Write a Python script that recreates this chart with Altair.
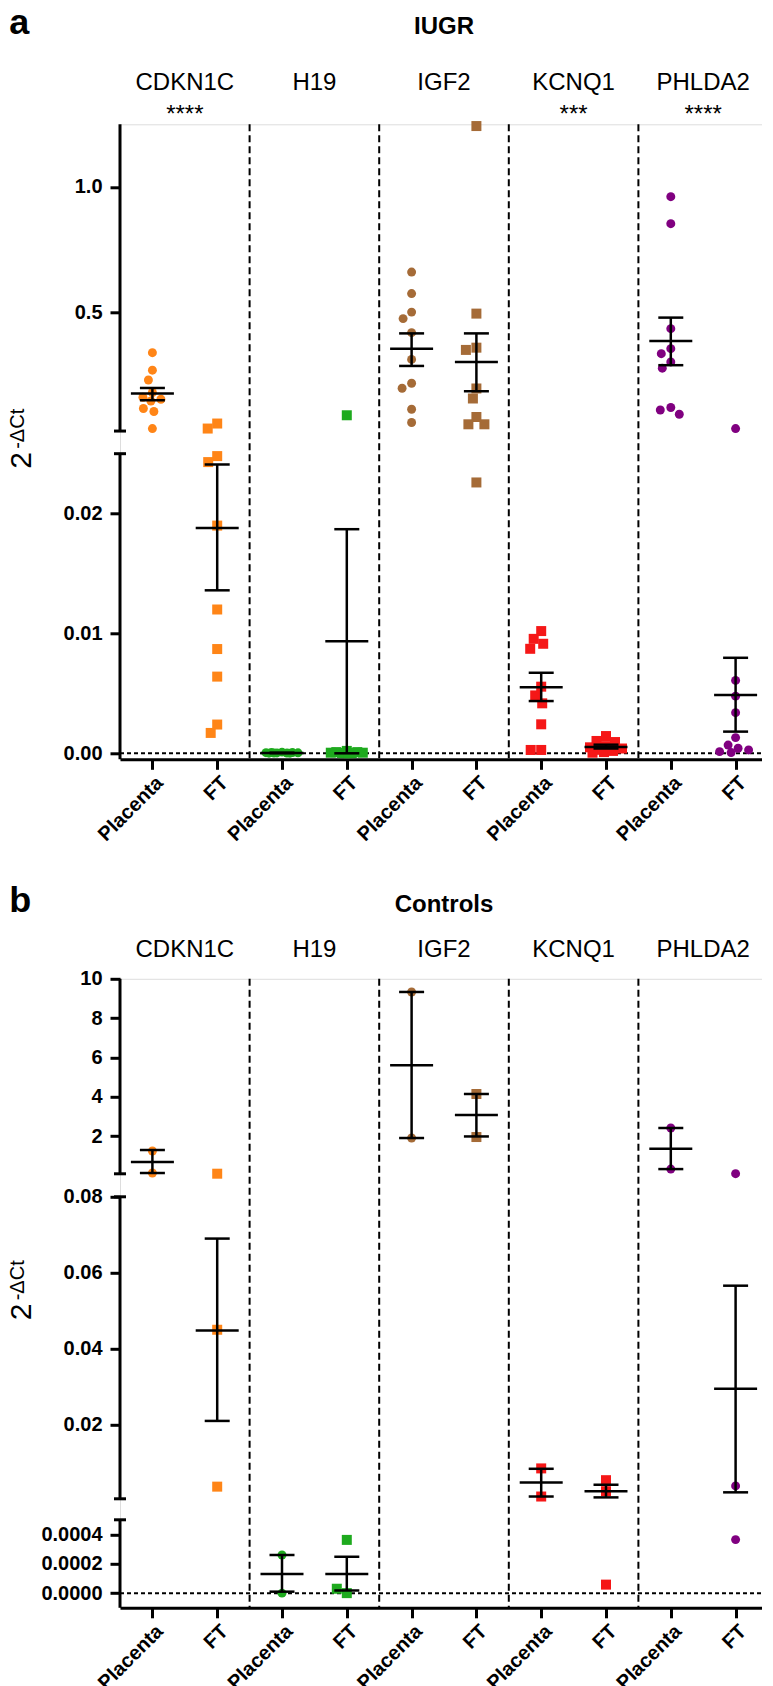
import altair as alt
import numpy as np
import pandas as pd

# ---------------- data ----------------
GENES = ["CDKN1C", "H19", "IGF2", "KCNQ1", "PHLDA2"]
TISSUES = ["Placenta", "FT"]
GENE_COLORS = ["#FF8517", "#1EAA1E", "#A56B37", "#F51717", "#800080"]
# marker used for each of the 10 columns (gene x tissue)
COLUMN_SHAPES = ["circle", "square", "circle", "square", "circle", "square",
                 "square", "square", "circle", "circle"]

# panel a : IUGR
IUGR_STARS = ["****", "", "", "***", "****"]
iugr_cdkn1c_placenta = [0.338, 0.268, 0.229, 0.179, 0.160, 0.152, 0.145, 0.115, 0.103, 0.035]
iugr_cdkn1c_ft = [0.055, 0.035, 0.0248, 0.0243, 0.019, 0.012, 0.0087, 0.0064, 0.0024, 0.0017]
iugr_h19_placenta = [0.0001, 0.00008, 0.00006, 0.00005, 0.00004, 0.00003, 0.00002, 0.00002, 0.00001, 0.00001]
iugr_h19_ft = [0.088, 0.0002, 0.0001, 0.0001, 0.00005, 0.00005, 0.00003, 0.00002, 0.00001, 0.00001]
iugr_igf2_placenta = [0.660, 0.574, 0.500, 0.474, 0.418, 0.311, 0.216, 0.196, 0.112, 0.059]
iugr_igf2_ft = [1.243, 0.494, 0.358, 0.349, 0.195, 0.155, 0.081, 0.052, 0.052, 0.0226]
iugr_kcnq1_placenta = [0.0102, 0.00955, 0.00914, 0.00872, 0.00556, 0.00483, 0.00417, 0.00242, 0.00028, 0.00028]
iugr_kcnq1_ft = [0.00144, 0.00103, 0.00094, 0.0006, 0.0005, 0.0004, 0.0003, 0.0002, 0.0001, 0.00005]
iugr_phlda2_placenta = [0.961, 0.853, 0.434, 0.354, 0.334, 0.301, 0.276, 0.119, 0.109, 0.092]
iugr_phlda2_ft = [0.035, 0.00608, 0.00477, 0.00339, 0.00131, 0.00069, 0.00042, 0.00028, 0.00014, 0.00006]
IUGR_MEAN = [0.175, 0.0188, 0.00003, 0.00936, 0.354, 0.301, 0.00552, 0.00053, 0.385, 0.00486]
IUGR_SEM_HI = [0.197, 0.0241, 0.00005, 0.0187, 0.415, 0.415, 0.00672, 0.00072, 0.478, 0.00797]
IUGR_SEM_LO = [0.148, 0.0136, 0.00001, 0.0, 0.285, 0.184, 0.00436, 0.00040, 0.288, 0.00181]

# panel b : Controls
CTRL_STARS = ["", "", "", "", ""]
ctrl_cdkn1c_placenta = [1.24, 0.12]
ctrl_cdkn1c_ft = [0.085, 0.045, 0.0037]
ctrl_h19_placenta = [0.00026, 0.0]
ctrl_h19_ft = [0.000363, 0.0, 0.00003]
ctrl_igf2_placenta = [9.33, 1.9]
ctrl_igf2_ft = [4.14, 1.95]
ctrl_kcnq1_placenta = [0.0085, 0.0011]
ctrl_kcnq1_ft = [0.0054, 0.0025, 0.000058]
ctrl_phlda2_placenta = [2.41, 0.32]
ctrl_phlda2_ft = [0.085, 0.0039, 0.000365]
CTRL_MEAN = [0.68, 0.0448, 0.00013, 0.000131, 5.6, 3.07, 0.0048, 0.0025, 1.35, 0.0295]
CTRL_SEM_HI = [1.29, 0.069, 0.00026, 0.000248, 9.33, 4.14, 0.0084, 0.0042, 2.41, 0.0566]
CTRL_SEM_LO = [0.12, 0.021, 0.00001, 0.000018, 1.9, 1.98, 0.0011, 0.00087, 0.32, 0.0022]

IUGR_TICKS = [0.0, 0.01, 0.02, 0.5, 1.0]
CTRL_TICKS = [0.0, 0.0002, 0.0004, 0.02, 0.04, 0.06, 0.08, 2, 4, 6, 8, 10]

# ---------------- layout / style ----------------
W = 648
HA, HB = 635, 629
STEP = W / 10.0
EPS = 1e-9
FONT = "Liberation Sans"
SHAPE_SIZE = {"circle": 80, "square": 100}

# broken y axes: piecewise linear scales
A_DOM = [-0.0005, 0.025, 0.025 + EPS, 1.25]
A_RNG = [HA, 329.4, 306.75, 0]
A_SEGS = [(-0.0005, 0.025), (0.025 + EPS, 1.25)]
A_CAPS = [0.025, 0.025 + EPS]

B_DOM = [-0.0001, 0.0005, 0.0005 + EPS, 0.08, 0.08 + EPS, 10]
B_RNG = [HB, 541, 520, 218, 195, 0]
B_SEGS = [(-0.0001, 0.0005), (0.0005 + EPS, 0.08), (0.08 + EPS, 10)]
B_CAPS = [0.0005, 0.0005 + EPS, 0.08, 0.08 + EPS]


def swarm(vals, dom, rng, d=10.5, lim=16):
    ys = [float(np.interp(v, dom, rng)) for v in vals]
    cands = sorted(np.arange(-lim, lim + 0.01, 0.5), key=lambda c: (abs(c), c))
    placed, out = [], []
    for y in ys:
        best = None
        for c in cands:
            if all((c - px) ** 2 + (y - py) ** 2 >= d * d for px, py in placed):
                best = c
                break
        if best is None:
            best = max(cands, key=lambda c: min((c - px) ** 2 + (y - py) ** 2 for px, py in placed))
        placed.append((best, y))
        out.append(float(best))
    return out


def build_points(lists, dom, rng):
    rows = []
    for idx, vals in enumerate(lists):
        shp = COLUMN_SHAPES[idx]
        for v, dx in zip(vals, swarm(vals, dom, rng)):
            rows.append({"idx": idx, "gene": GENES[idx // 2], "tissue": TISSUES[idx % 2],
                         "v": v, "xpos": idx + dx / STEP, "shp": shp, "sz": SHAPE_SIZE[shp]})
    return pd.DataFrame(rows)


def panel(letter, title, stars, lists, means, his, los, dom, rng, segs, caps, ticks,
          label_expr, H, gene_y, star_y, title_y):
    yscale = alt.Scale(domain=dom, range=rng, nice=False, zero=False)
    xscale = alt.Scale(domain=[-0.5, 9.5], nice=False, zero=False)
    xaxis = alt.Axis(values=list(range(10)),
                     labelExpr="datum.value % 2 == 0 ? 'Placenta' : 'FT'",
                     labelAngle=-45, labelFontSize=20, labelFontWeight="bold", labelColor="black",
                     labelFont=FONT, labelPadding=3, tickSize=10, tickWidth=3, tickColor="black",
                     domainWidth=3, domainColor="black", grid=False, title=None,
                     labelFlush=False, labelOverlap=False)
    yaxis = alt.Axis(values=ticks, labelExpr=label_expr, domain=False, tickSize=10, tickWidth=3,
                     tickColor="black", labelFontSize=20, labelFontWeight="bold", labelColor="black",
                     labelFont=FONT, labelPadding=8, grid=False, title=None,
                     labelOverlap=False, labelFlush=False)

    def X(f):
        return alt.X(f, scale=xscale, axis=xaxis)

    def Y(f):
        return alt.Y(f, scale=yscale, axis=yaxis)

    pts = build_points(lists, dom, rng)
    stats = pd.DataFrame({"idx": list(range(10)), "mean": means, "hi": his, "lo": los})
    gdf = pd.DataFrame({"gx": [2 * g + 0.5 for g in range(5)], "name": GENES, "star": stars})
    sdf = pd.DataFrame({"s": [2 * g + 1.5 for g in range(4)]})
    zdf = pd.DataFrame({"z": [0.0]})
    segdf = pd.DataFrame({"lo": [s[0] for s in segs], "hi": [s[1] for s in segs]})
    capdf = pd.DataFrame({"c": caps})

    seps = alt.Chart(sdf).mark_rule(strokeDash=[7, 4], strokeWidth=2, color="black").encode(
        x=X("s:Q"), y=alt.value(0), y2=alt.value(H))
    zero = alt.Chart(zdf).mark_rule(strokeDash=[4, 3], strokeWidth=2, color="black").encode(
        y=Y("z:Q"), x=alt.value(0), x2=alt.value(W))
    yline = alt.Chart(segdf).mark_rule(strokeWidth=3, color="black").encode(
        x=alt.value(0), y=Y("lo:Q"), y2=alt.Y2("hi:Q"))
    ycaps = alt.Chart(capdf).mark_rule(strokeWidth=3, color="black").encode(
        x=alt.value(-6), x2=alt.value(6), y=Y("c:Q"))
    points = alt.Chart(pts).mark_point(filled=True, opacity=1).encode(
        x=X("xpos:Q"), y=Y("v:Q"),
        color=alt.Color("gene:N", scale=alt.Scale(domain=GENES, range=GENE_COLORS), legend=None),
        shape=alt.Shape("shp:N", scale=None),
        size=alt.Size("sz:Q", scale=None))
    vbar = alt.Chart(stats).mark_rule(strokeWidth=2.5, color="black").encode(
        x=X("idx:Q"), y=Y("lo:Q"), y2=alt.Y2("hi:Q"))
    mline = alt.Chart(stats).mark_tick(orient="horizontal", size=43, thickness=2.5, color="black",
                                       opacity=1).encode(x=X("idx:Q"), y=Y("mean:Q"))
    hcap = alt.Chart(stats).mark_tick(orient="horizontal", size=25, thickness=2.5, color="black",
                                      opacity=1).encode(x=X("idx:Q"), y=Y("hi:Q"))
    lcap = alt.Chart(stats).mark_tick(orient="horizontal", size=25, thickness=2.5, color="black",
                                      opacity=1).encode(x=X("idx:Q"), y=Y("lo:Q"))
    names = alt.Chart(gdf).mark_text(fontSize=24, font=FONT, color="black", baseline="alphabetic").encode(
        x=X("gx:Q"), y=alt.value(gene_y), text="name:N")
    starl = alt.Chart(gdf).transform_filter("datum.star != ''").mark_text(
        fontSize=24, font=FONT, color="black", baseline="alphabetic").encode(
        x=X("gx:Q"), y=alt.value(star_y), text="star:N")
    tdf = pd.DataFrame({"t": [title]})
    ttl = alt.Chart(tdf).mark_text(fontSize=24, font=FONT, fontWeight="bold", color="black",
                                   baseline="alphabetic").encode(
        x=alt.value(W / 2), y=alt.value(title_y), text="t:N")
    ldf = pd.DataFrame({"t": [letter]})
    let = alt.Chart(ldf).mark_text(fontSize=36, font=FONT, fontWeight="bold", color="black",
                                   align="left", baseline="alphabetic").encode(
        x=alt.value(-110.7), y=alt.value(title_y), text="t:N")
    y2df = pd.DataFrame({"t": ["2"]})
    ysup = pd.DataFrame({"t": ["-ΔCt"]})
    yt1 = alt.Chart(y2df).mark_text(fontSize=30, font=FONT, angle=270, align="left",
                                    baseline="alphabetic", color="black").encode(
        x=alt.value(-89.1), y=alt.value(H / 2 + 27), text="t:N")
    yt2 = alt.Chart(ysup).mark_text(fontSize=20, font=FONT, angle=270, align="left",
                                    baseline="alphabetic", color="black").encode(
        x=alt.value(-96.3), y=alt.value(H / 2 + 7), text="t:N")

    layers = [seps, zero, yline, ycaps, points, vbar, mline, hcap, lcap, names]
    if any(stars):
        layers.append(starl)
    layers += [ttl, let, yt1, yt2]
    return alt.layer(*layers).properties(width=W, height=H)


A_LISTS = [iugr_cdkn1c_placenta, iugr_cdkn1c_ft, iugr_h19_placenta, iugr_h19_ft,
           iugr_igf2_placenta, iugr_igf2_ft, iugr_kcnq1_placenta, iugr_kcnq1_ft,
           iugr_phlda2_placenta, iugr_phlda2_ft]
B_LISTS = [ctrl_cdkn1c_placenta, ctrl_cdkn1c_ft, ctrl_h19_placenta, ctrl_h19_ft,
           ctrl_igf2_placenta, ctrl_igf2_ft, ctrl_kcnq1_placenta, ctrl_kcnq1_ft,
           ctrl_phlda2_placenta, ctrl_phlda2_ft]

A_LABELS = "datum.value < 0.1 ? format(datum.value, '.2f') : format(datum.value, '.1f')"
B_LABELS = ("datum.value < 0.001 ? format(datum.value, '.4f') : "
            "(datum.value < 1 ? format(datum.value, '.2f') : format(datum.value, 'd'))")

pa = panel("a", "IUGR", IUGR_STARS, A_LISTS, IUGR_MEAN, IUGR_SEM_HI, IUGR_SEM_LO,
           A_DOM, A_RNG, A_SEGS, A_CAPS, IUGR_TICKS, A_LABELS, HA, -34.3, -2, -90)
pb = panel("b", "Controls", CTRL_STARS, B_LISTS, CTRL_MEAN, CTRL_SEM_HI, CTRL_SEM_LO,
           B_DOM, B_RNG, B_SEGS, B_CAPS, CTRL_TICKS, B_LABELS, HB, -22, -2, -67)

# keep the drawing no wider than the page (it would otherwise be squeezed);
# the page window crops the bottom labels as in the original figure
chart = alt.vconcat(pa, pb, spacing=36.5).configure_view(stroke=None).configure(
    font=FONT, background="white", padding={"left": -2.0, "top": -3.7, "right": -8, "bottom": 0})

chart.save("out.html", embed_options={"renderer": "svg", "actions": False})
